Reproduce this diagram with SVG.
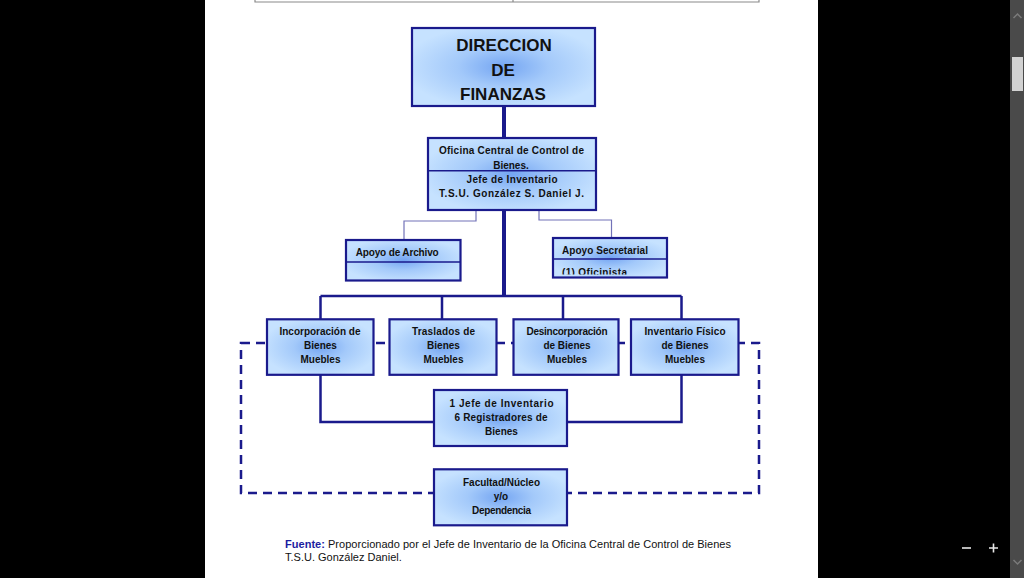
<svg xmlns="http://www.w3.org/2000/svg" width="1024" height="578" viewBox="0 0 1024 578">
<defs>
<radialGradient id="g" cx="50%" cy="50%" r="55%">
<stop offset="0" stop-color="#74a5f2"/>
<stop offset="0.45" stop-color="#a3c9fa"/>
<stop offset="1" stop-color="#c6e2ff"/>
</radialGradient>
<clipPath id="secClip"><rect x="554" y="260" width="112" height="14.5"/></clipPath>
</defs>
<style>
.box{fill:url(#g);stroke:#1a1a8c;stroke-width:2.2}
.div{stroke:#1a1a8c;stroke-width:1.5}
.t{font-family:"Liberation Sans",Arial,sans-serif;font-weight:bold;font-size:10px;fill:#111;text-anchor:middle}
.tl{text-anchor:start}
.big{font-size:17px}
.ln{fill:none;stroke:#1a1a8c;stroke-width:2.5}
.thick{fill:none;stroke:#1a1a8c;stroke-width:4}
.thin{fill:none;stroke:#7272b8;stroke-width:1.2}
.dash{fill:none;stroke:#1a1a8c;stroke-width:2.5;stroke-dasharray:9 6}
.cap{font-family:"Liberation Sans",Arial,sans-serif;font-size:11px;fill:#111}
</style>
<rect x="0" y="0" width="1024" height="578" fill="#000"/>
<rect x="205" y="0" width="613" height="578" fill="#fff"/>
<!-- top table remnant -->
<g fill="none" stroke="#8a8a8a" stroke-width="1.2">
<path d="M255 0 V2 H759 V0"/>
<path d="M513 0 V2"/>
</g>
<!-- scrollbar -->
<rect x="1010" y="0" width="14" height="578" fill="#4a4a4a"/>
<rect x="1012" y="57" width="11" height="34" fill="#d2d2d2"/>
<path d="M1013.5 18 L1017.5 14 L1021.5 18" fill="none" stroke="#7a7a7a" stroke-width="1.5"/>
<path d="M1013.5 560 L1017.5 564 L1021.5 560" fill="none" stroke="#7a7a7a" stroke-width="1.5"/>
<g stroke="#e8e8e8" stroke-width="1.6">
<path d="M962 548 H971"/>
<path d="M989 548 H998 M993.5 543.5 V552.5"/>
</g>

<g id="connectors">
<path class="thick" d="M504 106 V296"/>
<path class="thin" d="M476 210 V221 H404 V239"/>
<path class="thin" d="M539 210 V220 H611.5 V238"/>
<path class="ln" d="M320.5 296 H681.5"/>
<path class="ln" d="M320.5 296 V319 M442 296 V319 M563 296 V319 M681.5 296 V319"/>
<path class="ln" d="M320.5 375 V422 H434 M681.5 375 V422 H567"/>
<path class="dash" d="M241 343 H759 V493 H241 Z"/>
</g>

<g id="direccion">
<rect class="box" x="412" y="28" width="183" height="78"/>
<text class="t big" x="504" y="51">DIRECCION</text>
<text class="t big" x="503" y="76">DE</text>
<text class="t big" x="503" y="100">FINANZAS</text>
</g>

<g id="oficina">
<rect class="box" x="428" y="138" width="168" height="72"/>
<line class="div" x1="428" y1="170.7" x2="596" y2="170.7"/>
<text class="t" x="511.5" y="154.3" textLength="145" lengthAdjust="spacing">Oficina Central de Control de</text>
<text class="t" x="511" y="168.5">Bienes.</text>
<text class="t" x="512" y="182.5" textLength="91" lengthAdjust="spacing">Jefe de Inventario</text>
<text class="t" x="511.5" y="196.5" textLength="145" lengthAdjust="spacing">T.S.U. González S. Daniel J.</text>
</g>

<g id="archivo">
<rect class="box" x="346" y="240" width="114.5" height="40.5"/>
<line class="div" x1="346" y1="262" x2="460.5" y2="262"/>
<text class="t tl" x="355.7" y="256" textLength="83" lengthAdjust="spacing">Apoyo de Archivo</text>
</g>

<g id="secretarial">
<rect class="box" x="553" y="238" width="114" height="39.5"/>
<line class="div" x1="553" y1="259" x2="667" y2="259"/>
<text class="t tl" x="562" y="254" textLength="86" lengthAdjust="spacing">Apoyo Secretarial</text>
<text class="t tl" x="562" y="275.5" clip-path="url(#secClip)" textLength="65" lengthAdjust="spacing">(1) Oficinista</text>
</g>

<g id="incorporacion">
<rect class="box" x="267" y="319.3" width="106.5" height="55.5"/>
<text class="t" x="320" y="335" textLength="81" lengthAdjust="spacing">Incorporación de</text>
<text class="t" x="320.5" y="349">Bienes</text>
<text class="t" x="320.5" y="363">Muebles</text>
</g>

<g id="traslados">
<rect class="box" x="389.5" y="319.3" width="107" height="55.5"/>
<text class="t" x="443.5" y="335" textLength="63" lengthAdjust="spacing">Traslados de</text>
<text class="t" x="443.5" y="349">Bienes</text>
<text class="t" x="443.5" y="363">Muebles</text>
</g>

<g id="desincorporacion">
<rect class="box" x="513.5" y="319.3" width="105" height="55.5"/>
<text class="t" x="567" y="335" textLength="81" lengthAdjust="spacing">Desincorporación</text>
<text class="t" x="567" y="349">de Bienes</text>
<text class="t" x="567" y="363">Muebles</text>
</g>

<g id="inventario">
<rect class="box" x="631" y="319.3" width="107.5" height="55.5"/>
<text class="t" x="685" y="335" textLength="81" lengthAdjust="spacing">Inventario Físico</text>
<text class="t" x="685" y="349">de Bienes</text>
<text class="t" x="685" y="363">Muebles</text>
</g>

<g id="jefe">
<rect class="box" x="434" y="390" width="133" height="56"/>
<text class="t" x="501.5" y="407" textLength="104" lengthAdjust="spacing">1 Jefe de Inventario</text>
<text class="t" x="501" y="420.5" textLength="93" lengthAdjust="spacing">6 Registradores de</text>
<text class="t" x="501.5" y="434.5">Bienes</text>
</g>

<g id="facultad">
<rect class="box" x="434" y="469.3" width="133" height="56"/>
<text class="t" x="501.5" y="485.5" textLength="77" lengthAdjust="spacing">Facultad/Núcleo</text>
<text class="t" x="501" y="499.5">y/o</text>
<text class="t" x="501.5" y="513.5" textLength="59" lengthAdjust="spacing">Dependencia</text>
</g>

<g id="caption">
<text class="cap" x="285" y="548" textLength="446" lengthAdjust="spacing"><tspan font-weight="bold" fill="#1c1ca0">Fuente:</tspan> Proporcionado por el Jefe de Inventario de la Oficina Central de Control de Bienes</text>
<text class="cap" x="285" y="561">T.S.U. González Daniel.</text>
</g>
</svg>
